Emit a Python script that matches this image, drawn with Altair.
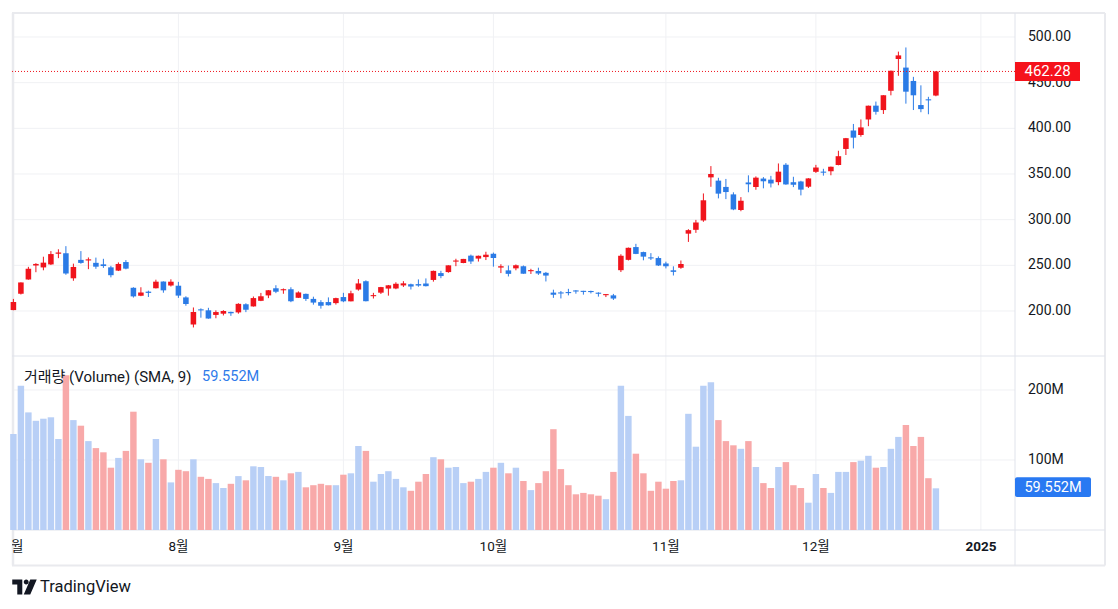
import altair as alt
import pandas as pd

# ---------------- data (TSLA daily) ----------------
dates = (
    ["2024-07-%02d" % d for d in [1, 2, 3, 5, 8, 9, 10, 11, 12, 15, 16, 17, 18, 19, 22, 23, 24, 25, 26, 29, 30, 31]]
    + ["2024-08-%02d" % d for d in [1, 2, 5, 6, 7, 8, 9, 12, 13, 14, 15, 16, 19, 20, 21, 22, 23, 26, 27, 28, 29, 30]]
    + ["2024-09-%02d" % d for d in [3, 4, 5, 6, 9, 10, 11, 12, 13, 16, 17, 18, 19, 20, 23, 24, 25, 26, 27, 30]]
    + ["2024-10-%02d" % d for d in [1, 2, 3, 4, 7, 8, 9, 10, 11, 14, 15, 16, 17, 18, 21, 22, 23, 24, 25, 28, 29, 30, 31]]
    + ["2024-11-%02d" % d for d in [1, 4, 5, 6, 7, 8, 11, 12, 13, 14, 15, 18, 19, 20, 21, 22, 25, 26, 27, 29]]
    + ["2024-12-%02d" % d for d in [2, 3, 4, 5, 6, 9, 10, 11, 12, 13, 16, 17, 18, 19, 20, 23, 24]]
)

opens = [
    201.02, 218.89, 234.56, 249.81, 247.71, 251.00, 262.80, 263.30, 235.80, 255.97, 255.31, 252.73, 251.09, 247.79, 244.21, 253.60, 225.42, 216.80, 221.19, 224.90, 232.25, 227.90,
    227.69, 214.88, 185.22, 200.75, 200.77, 195.70, 197.05, 199.02, 198.47, 207.39, 205.02, 211.15, 217.07, 224.88, 222.67, 223.82, 214.46, 218.75, 213.25, 209.72, 209.80, 208.63,
    215.26, 210.59, 223.49, 232.60, 216.20, 220.07, 224.55, 224.66, 228.00, 229.30, 229.45, 230.09, 234.00, 241.52, 242.61, 254.08, 252.54, 260.60, 257.38, 259.04,
    262.67, 247.55, 244.48, 246.69, 249.00, 243.56, 243.82, 241.81, 220.13, 220.13, 220.01, 221.40, 221.59, 220.71, 218.90, 217.31, 217.13, 244.68, 256.01, 270.00, 264.51, 258.04, 257.99,
    252.04, 244.56, 247.34, 284.67, 288.89, 299.14, 346.30, 342.74, 335.85, 327.69, 310.57, 340.73, 335.76, 345.00, 343.81, 341.09, 360.14, 341.00, 341.80, 336.08,
    352.38, 351.80, 353.00, 359.87, 377.42, 397.61, 392.68, 409.70, 424.84, 420.00, 441.09, 475.90, 466.50, 451.88, 425.51, 431.00, 435.90,
]
highs = [
    213.23, 231.30, 248.35, 252.37, 259.44, 265.61, 267.59, 271.00, 251.84, 265.60, 258.62, 258.47, 257.14, 249.44, 253.21, 255.76, 225.99, 226.00, 222.28, 234.27, 232.41, 234.68,
    231.87, 216.13, 203.88, 202.90, 203.49, 200.70, 200.88, 199.26, 208.49, 208.44, 215.88, 219.80, 222.98, 228.22, 224.66, 225.99, 221.48, 219.09, 215.66, 211.84, 214.89, 214.57,
    219.90, 222.22, 235.00, 233.60, 219.87, 226.40, 228.47, 231.45, 232.67, 229.96, 234.57, 235.68, 244.24, 243.99, 250.00, 257.19, 257.05, 261.75, 260.70, 264.86,
    263.98, 251.16, 249.79, 250.96, 249.83, 246.21, 247.43, 242.79, 223.34, 221.91, 224.26, 222.82, 222.08, 222.28, 220.48, 218.22, 218.72, 262.12, 269.49, 273.54, 264.98, 263.35, 259.75,
    254.00, 248.90, 255.28, 289.59, 299.75, 328.71, 358.64, 345.84, 344.60, 329.98, 324.68, 348.55, 347.38, 346.60, 347.99, 361.53, 361.93, 346.96, 342.55, 345.45,
    360.00, 355.69, 358.10, 375.43, 389.49, 404.80, 409.73, 424.88, 429.30, 436.30, 463.19, 483.99, 488.54, 456.36, 447.08, 434.51, 462.78,
]
lows = [
    200.85, 218.06, 234.25, 242.46, 244.57, 250.30, 257.86, 239.65, 233.09, 251.73, 245.80, 246.18, 247.20, 236.83, 243.75, 245.63, 214.71, 216.23, 215.33, 224.70, 220.00, 226.79,
    214.33, 205.78, 182.00, 192.67, 191.48, 192.04, 195.11, 194.67, 197.06, 198.75, 204.82, 210.80, 214.09, 219.56, 218.86, 209.68, 214.21, 211.01, 206.94, 202.59, 205.97, 207.03,
    209.64, 210.57, 222.25, 210.51, 213.67, 218.64, 216.80, 223.83, 226.32, 223.53, 226.55, 226.88, 232.13, 235.92, 241.92, 249.05, 252.28, 251.53, 254.12, 255.77,
    248.53, 241.50, 237.81, 244.58, 240.70, 240.56, 239.51, 232.34, 214.38, 213.74, 217.12, 218.93, 217.90, 219.23, 215.73, 215.26, 212.11, 242.65, 255.32, 262.24, 255.51, 255.82, 249.25,
    246.63, 238.88, 246.21, 275.62, 285.52, 297.66, 336.00, 323.31, 322.50, 310.37, 309.22, 330.01, 332.75, 334.30, 335.28, 337.70, 338.20, 335.66, 326.59, 334.65,
    351.15, 348.20, 348.60, 359.50, 370.80, 378.01, 390.85, 402.38, 415.00, 415.71, 436.15, 457.51, 427.01, 420.02, 417.64, 415.41, 435.14,
]
closes = [
    209.86, 231.26, 246.39, 251.52, 252.94, 262.33, 263.26, 241.03, 248.23, 252.64, 256.56, 248.50, 249.23, 239.20, 251.51, 246.38, 215.99, 220.25, 219.80, 232.10, 222.62, 232.07,
    216.86, 207.67, 198.88, 200.64, 191.76, 198.84, 200.00, 197.49, 207.83, 201.38, 214.14, 216.12, 222.72, 221.10, 223.27, 210.66, 220.32, 213.21, 209.21, 205.75, 206.28, 214.11,
    210.60, 219.41, 230.17, 210.73, 216.27, 226.17, 228.13, 229.81, 230.29, 226.78, 227.87, 227.20, 243.92, 238.25, 250.00, 254.27, 257.02, 254.22, 260.46, 261.63,
    258.02, 249.02, 240.66, 250.08, 240.83, 244.50, 241.05, 238.77, 217.80, 219.16, 219.57, 221.33, 220.89, 220.70, 218.85, 217.97, 213.65, 260.48, 269.19, 262.51, 259.52, 257.55, 249.85,
    248.98, 242.84, 251.44, 288.53, 296.91, 321.22, 350.00, 328.49, 330.24, 311.18, 320.72, 338.74, 346.00, 342.03, 339.64, 352.56, 338.59, 338.23, 332.89, 345.16,
    357.09, 351.42, 357.93, 369.49, 389.22, 389.79, 400.99, 424.77, 418.10, 436.23, 463.02, 479.86, 440.13, 436.17, 421.06, 430.60, 462.28,
]
volumes_m = [
    137, 206, 168, 156, 159, 161, 130, 221, 157, 149, 127, 117, 111, 89, 103, 113, 169, 101, 96, 130, 101, 68,
    86, 84, 101, 76, 73, 67, 60, 66, 77, 71, 91, 90, 77, 76, 71, 81, 83, 61, 64, 66, 64, 64,
    79, 81, 120, 113, 69, 80, 84, 73, 61, 56, 69, 80, 104, 101, 89, 90, 67, 69, 73, 83,
    89, 96, 81, 89, 70, 57, 67, 84, 144, 87, 64, 51, 53, 51, 49, 44, 83, 206, 163, 109, 81, 56, 69,
    59, 70, 71, 166, 119, 206, 211, 157, 127, 121, 116, 127, 90, 67, 60, 90, 97, 64, 60, 39,
    80, 60, 53, 83, 83, 97, 99, 106, 89, 90, 116, 133, 150, 120, 133, 74, 59.552,
]

price_ticks = [200, 250, 300, 350, 400, 450, 500]
volume_ticks = [100, 200]
month_index = [0, 22, 44, 64, 87, 107, 129]
month_labels = ["7월", "8월", "9월", "10월", "11월", "12월", "2025"]
month_bold = [False, False, False, False, False, False, True]
last_price = [462.28]
last_volume = [59.552]
legend_title = ["거래량 (Volume) (SMA, 9)"]

# ---------------- styles ----------------
UP = "#F0141C"
DOWN = "#2B7BE6"
VOL_UP = "#B8CFF6"      # volume bars on up days are drawn blue in this chart
VOL_DOWN = "#F8A9A9"
TXT = "#131722"
GRID = "#F0F1F4"
LINE = "#E0E3EB"
FONT = "Roboto, 'Noto Sans CJK KR', sans-serif"

W, H = 1098, 593
XS = alt.Scale(domain=[-0.18667, 146.2133], nice=False, zero=False)
PY = alt.Scale(domain=[-117.52, 531.75], nice=False, zero=False)
VY = alt.Scale(domain=[-101.43, 745.71], nice=False, zero=False)

df = pd.DataFrame({"date": dates, "i": list(range(len(closes))), "o": opens,
                   "h": highs, "l": lows, "c": closes, "v": volumes_m})
df["cc"] = [UP if c >= o else DOWN for o, c in zip(opens, closes)]
df["vc"] = [VOL_UP if c >= o else VOL_DOWN for o, c in zip(opens, closes)]

months = pd.DataFrame({"i": month_index, "label": month_labels, "bold": month_bold})
pticks = pd.DataFrame({"p": price_ticks})
vticks = pd.DataFrame({"v": volume_ticks})
lastp = pd.DataFrame({"p": last_price})
lastv = pd.DataFrame({"v": last_volume})
leg = pd.DataFrame({"t": legend_title, "val": last_volume})

one = pd.DataFrame({"k": [0]})

def frame_rule(x, x2, y, y2, color=LINE, width=1):
    return alt.Chart(one).mark_rule(color=color, strokeWidth=width).encode(
        x=alt.value(x), x2=alt.value(x2), y=alt.value(y), y2=alt.value(y2))

# grid lines
vgrid = alt.Chart(months).transform_filter("datum.i > 0").mark_rule(color=GRID, strokeWidth=1).encode(
    x=alt.X("i:Q", scale=XS, axis=None), y=alt.value(5), y2=alt.value(522))
pgrid = alt.Chart(pticks).mark_rule(color=GRID, strokeWidth=1).encode(
    y=alt.Y("p:Q", scale=PY, axis=None), x=alt.value(0), x2=alt.value(1003))
vgrid2 = alt.Chart(vticks).mark_rule(color=GRID, strokeWidth=1).encode(
    y=alt.Y("v:Q", scale=VY, axis=None), x=alt.value(0), x2=alt.value(1003))

# frame
frames = [
    frame_rule(0, 1093, 5, 5, "#E9EAEE", 2),
    frame_rule(0, 1093, 557.5, 557.5, "#E9EAEE", 2),
    frame_rule(1, 1, 5, 557.5, "#E9EAEE", 2.5),
    frame_rule(1093, 1093, 5, 557.5, "#E9EAEE", 2),
    frame_rule(0, 1093, 348, 348),
    frame_rule(0, 1093, 522, 522),
    frame_rule(1003, 1003, 5, 557.5),
]

# volume bars
vol = alt.Chart(df).transform_calculate(
    x1="datum.i - 0.43", x2="datum.i + 0.43", zero="0"
).mark_rect().encode(
    x=alt.X("x1:Q", scale=XS, axis=None), x2="x2:Q",
    y=alt.Y("zero:Q", scale=VY, axis=None), y2="v:Q",
    color=alt.Color("vc:N", scale=None))

# candles
wick = alt.Chart(df).mark_rule(strokeWidth=1).encode(
    x=alt.X("i:Q", scale=XS, axis=None),
    y=alt.Y("l:Q", scale=PY, axis=None), y2="h:Q",
    color=alt.Color("cc:N", scale=None))
body = alt.Chart(df).transform_calculate(
    x1="datum.i - 0.37", x2="datum.i + 0.37",
    b1="min(datum.o, datum.c)",
    b2="max(max(datum.o, datum.c), min(datum.o, datum.c) + 1.2)"
).mark_rect().encode(
    x=alt.X("x1:Q", scale=XS, axis=None), x2="x2:Q",
    y=alt.Y("b1:Q", scale=PY, axis=None), y2="b2:Q",
    color=alt.Color("cc:N", scale=None))

# last price dotted line
pline = alt.Chart(lastp).mark_rule(color=UP, strokeWidth=1, strokeDash=[1, 2]).encode(
    y=alt.Y("p:Q", scale=PY, axis=None), x=alt.value(0), x2=alt.value(1003))

# axis labels
plabels = alt.Chart(pticks).transform_calculate(label="format(datum.p, '.2f')").mark_text(
    align="left", baseline="middle", font=FONT, fontSize=14, color=TXT).encode(
    y=alt.Y("p:Q", scale=PY, axis=None), x=alt.value(1016), text="label:N")
vlabels = alt.Chart(vticks).transform_calculate(label="datum.v + 'M'").mark_text(
    align="left", baseline="middle", font=FONT, fontSize=14, color=TXT).encode(
    y=alt.Y("v:Q", scale=VY, axis=None), x=alt.value(1016), text="label:N")
xlabels = alt.Chart(months).transform_filter("!datum.bold").mark_text(
    align="center", baseline="middle", font=FONT, fontSize=13.5, color=TXT, clip=True).encode(
    x=alt.X("i:Q", scale=XS, axis=None), y=alt.value(539), text="label:N")
xlabels_b = alt.Chart(months).transform_filter("datum.bold").mark_text(
    align="center", baseline="middle", font=FONT, fontSize=13.5, fontWeight="bold", color=TXT).encode(
    x=alt.X("i:Q", scale=XS, axis=None), y=alt.value(539), text="label:N")

# last price box
pbox = alt.Chart(lastp).transform_calculate(p1="datum.p - 10.4", p2="datum.p + 10.4").mark_rect(
    color="#F5121B").encode(
    y=alt.Y("p1:Q", scale=PY, axis=None), y2="p2:Q", x=alt.value(1003), x2=alt.value(1068))
ptext = alt.Chart(lastp).transform_calculate(label="format(datum.p, '.2f')").mark_text(
    align="center", baseline="middle", font=FONT, fontSize=15, color="white").encode(
    y=alt.Y("p:Q", scale=PY, axis=None), x=alt.value(1035.5), text="label:N")

# last volume box
vbox = alt.Chart(lastv).transform_calculate(v1="datum.v - 12.5", v2="datum.v + 15.8").mark_rect(
    color="#2979F2", cornerRadius=2).encode(
    y=alt.Y("v1:Q", scale=VY, axis=None), y2="v2:Q", x=alt.value(1003), x2=alt.value(1079))
vtext = alt.Chart(lastv).transform_calculate(label="format(datum.v, '.3f') + 'M'").mark_text(
    align="center", baseline="middle", font=FONT, fontSize=14.5, color="white").encode(
    y=alt.Y("v:Q", scale=VY, axis=None), x=alt.value(1041), text="label:N")

# pane legend
legt = alt.Chart(leg).mark_text(align="left", baseline="middle", font=FONT, fontSize=15, color=TXT).encode(
    x=alt.value(12), y=alt.value(369), text="t:N")
legv = alt.Chart(leg).transform_calculate(label="format(datum.val, '.3f') + 'M'").mark_text(
    align="left", baseline="middle", font=FONT, fontSize=14.5, color="#2F7BEA").encode(
    x=alt.value(190), y=alt.value(369), text="label:N")

# TradingView mark
logo_path = ("M-1,-0.62 L-0.18,-0.62 L-0.18,0.62 L-0.59,0.62 L-0.59,-0.21 L-1,-0.21 Z "
             "M-0.06,-0.41 A0.2,0.2 0 1 0 0.34,-0.41 A0.2,0.2 0 1 0 -0.06,-0.41 Z "
             "M0.47,-0.62 L1,-0.62 L0.47,0.62 L-0.06,0.62 Z")
logo = alt.Chart(one).mark_point(shape=logo_path, filled=True, color=TXT, size=600, opacity=1).encode(
    x=alt.value(12.5), y=alt.value(579))
logotext = alt.Chart(one).transform_calculate(t="'TradingView'").mark_text(
    align="left", baseline="middle", font=FONT, fontSize=16.5, color=TXT).encode(
    x=alt.value(28), y=alt.value(579), text="t:N")

chart = alt.layer(
    vgrid, pgrid, vgrid2, *frames, vol, wick, body, pline,
    plabels, vlabels, xlabels, xlabels_b, pbox, ptext, vbox, vtext, legt, legv, logo, logotext
).resolve_scale(y="independent").properties(
    width=W, height=H,
    autosize=alt.AutoSizeParams(type="none"),
    padding={"left": 4, "top": 0, "right": 0, "bottom": 0},
    background="white",
).configure_view(strokeWidth=0)

chart.save("out.html", embed_options={"renderer": "svg", "actions": False})
